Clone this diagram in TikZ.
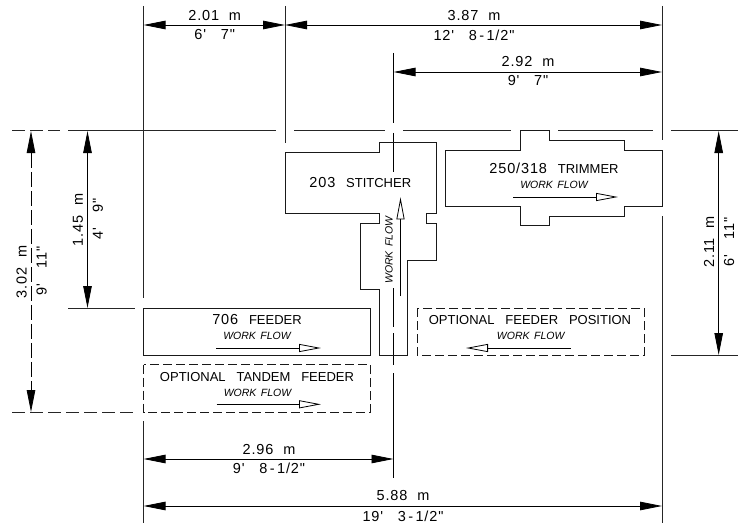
\documentclass[tikz,border=0pt]{standalone}
\usepackage{fontspec}
\setmainfont{Liberation Sans}
\newfontfamily\dimfont[LetterSpace=6]{Liberation Sans}
\usetikzlibrary{arrows.meta}
\newcommand*{\xLeft}{143.5}
\newcommand*{\xMid}{285}
\newcommand*{\xCen}{393.5}
\newcommand*{\xRight}{662}
\newcommand*{\yTop}{131}
\newcommand*{\yFeed}{308}
\newcommand*{\yBase}{355}
\newcommand*{\yTand}{412}
\newcommand*{\dimsize}{\fontsize{14.5}{14.5}\selectfont\dimfont}
\tikzset{
    dimline/.style={black, line width=0.8pt, {Triangle[length=22pt,width=8.5pt]}-{Triangle[length=22pt,width=8.5pt]}},
    flowline/.style={black, line width=0.8pt, -{Triangle[open,length=22pt,width=8pt]}},
    extline/.style={black!85, line width=1pt},
    machine/.style={black!90, line width=1pt},
    dashline/.style={black!85, line width=1pt, dash pattern=on 13pt off 5pt},
    label/.style={font=\fontsize{13}{13}\selectfont, inner sep=0pt},
    dimlabel/.style={font=\dimsize, inner sep=0pt},
    flowtext/.style={font=\fontsize{10.5}{10.5}\selectfont\itshape, inner sep=0pt}
}
\begin{document}
\begin{tikzpicture}[x=1pt,y=-1pt]
    \useasboundingbox (0,0) rectangle (741,524);

% extension lines
\draw [extline] (\xLeft,6) -- (\xLeft,298);
\draw [extline] (\xLeft,421) -- (\xLeft,523);
\draw [extline] (\xMid,6) -- (\xMid,143);
\draw [extline] (\xRight,6) -- (\xRight,140);
\draw [extline] (\xRight,216) -- (\xRight,523);
\foreach \a/\b in {68/276,294/385,403/511,558/653,671/738} {
    \draw [extline] (\a,\yTop) -- (\b,\yTop);
}
\draw [extline] (68,\yFeed) -- (135,\yFeed);
\draw [extline] (671,\yBase) -- (738,\yBase);
\draw [dashline] (12,\yTop) -- (60,\yTop);
\draw [dashline] (12,\yTand) -- (135,\yTand);
% center line of the stitcher
\foreach \a/\b in {53/123,133/172,288/327,333/365,373/478} {
    \draw [black, line width=0.8pt] (\xCen,\a) -- (\xCen,\b);
}

% machines
\draw [machine] (285,152.3) -- (379.5,152.3) -- (379.5,142.7) -- (436,142.7) -- (436,213.7)
    -- (426.3,213.7) -- (426.3,223.3) -- (436,223.3) -- (436,260.7) -- (407.7,260.7)
    -- (407.7,\yBase) -- (379.5,\yBase) -- (379.5,289) -- (360.7,289) -- (360.7,223.3)
    -- (379.5,223.3) -- (379.5,213.7) -- (285,213.7) -- cycle;
\draw [machine] (445.3,150) -- (520.7,150) -- (520.7,\yTop) -- (549,\yTop) -- (549,140.7)
    -- (624.3,140.7) -- (624.3,150) -- (\xRight,150) -- (\xRight,206.7) -- (624.3,206.7)
    -- (624.3,216) -- (549,216) -- (549,225.3) -- (520.7,225.3) -- (520.7,206.7)
    -- (445.3,206.7) -- cycle;
\draw [machine] (\xLeft,\yFeed) rectangle (370,\yBase);
\draw [machine, dash pattern=on 9pt off 4pt] (\xLeft,364.5) rectangle (370,\yTand);
\draw [machine, dash pattern=on 9pt off 4pt] (417,\yFeed) rectangle (644,\yBase);

\node [label] (stitcher) at (360.3,183) {{\dimsize 203}\ \ \ STITCHER};
\node [label] (trimmer) at (554,168) {{\dimsize 250/318}\ \ \ TRIMMER};
\node [label] (feeder) at (257,320) {{\dimsize 706}\ \ \ FEEDER};
\node [label] (tandem) at (257,376.7) {OPTIONAL\ \ \ TANDEM\ \ \ FEEDER};
\node [label] (optional) at (530,320) {OPTIONAL\ \ \ FEEDER\ \ \ POSITION};

% work flow
\node [flowtext] (flowStitcher) at (389,250) [rotate=90] {WORK\hspace{4.5pt}FLOW};
\node [flowtext] (flowTrimmer) at (554,185) {WORK\hspace{4.5pt}FLOW};
\node [flowtext] (flowFeeder) at (257,336) {WORK\hspace{4.5pt}FLOW};
\node [flowtext] (flowTandem) at (257.5,392.7) {WORK\hspace{4.5pt}FLOW};
\node [flowtext] (flowOptional) at (530.7,336) {WORK\hspace{4.5pt}FLOW};
\draw [flowline] (400.5,296) -- (400.5,197.3);
\draw [flowline] (513,197) -- (618,197);
\draw [flowline] (216,348) -- (321,348);
\draw [flowline] (216.5,404.3) -- (321,404.3);
\draw [flowline] (570.7,348) -- (466,348);

% dimensions
\draw [dimline] (\xLeft,25) -- (\xMid,25);
\draw [dimline] (\xMid,25) -- (\xRight,25);
\draw [dimline] (\xCen,72) -- (\xRight,72);
\draw [dimline] (\xLeft,459) -- (\xCen,459);
\draw [dimline] (\xLeft,506) -- (\xRight,506);
\draw [dimline] (87.5,\yTop) -- (87.5,\yFeed);
\draw [dimline, dash pattern=on 15pt off 4pt] (31,\yTop) -- (31,\yTand);
\draw [dimline] (718.7,\yTop) -- (718.7,\yBase);

\node [dimlabel] (topA) at (214.7,16) {2.01\ \ m};
\node [dimlabel] (topB) at (214.7,35) {6'\ \ \ 7"};
\node [dimlabel] (topC) at (474,16) {3.87\ \ m};
\node [dimlabel] (topD) at (474,35) {12'\ \ \ 8\,-\,1/2"};
\node [dimlabel] (midA) at (528,62) {2.92\ \ m};
\node [dimlabel] (midB) at (528,81) {9'\ \ \ 7"};
\node [dimlabel] (botA) at (269,450) {2.96\ \ m};
\node [dimlabel] (botB) at (269,468) {9'\ \ \ 8\,-\,1/2"};
\node [dimlabel] (botC) at (403,496) {5.88\ \ m};
\node [dimlabel] (botD) at (403,516) {19'\ \ \ 3\,-\,1/2"};
\node [dimlabel, rotate=90] (sideA) at (78,220) {1.45\ \ m};
\node [dimlabel, rotate=90] (sideB) at (98,219) {4'\ \ \ 9"};
\node [dimlabel, rotate=90] (sideC) at (21.7,271.7) {3.02\ \ m};
\node [dimlabel, rotate=90] (sideD) at (41.7,271) {9'\ \ \ 11"};
\node [dimlabel, rotate=90] (sideE) at (709,242) {2.11\ \ m};
\node [dimlabel, rotate=90] (sideF) at (729,242) {6'\ \ \ 11"};

\end{tikzpicture}
\end{document}
